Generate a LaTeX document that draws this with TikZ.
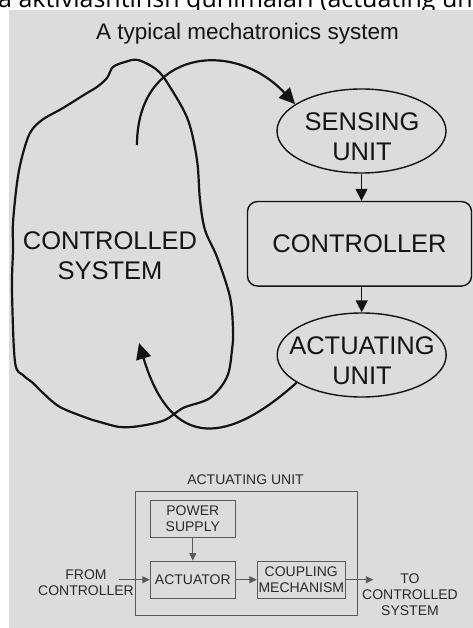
\documentclass[tikz,border=0pt]{standalone}
\usepackage{fontspec}
\setmainfont{Liberation Sans}
\newfontfamily\stripfont{Open Sans}
\usetikzlibrary{shapes.geometric,arrows.meta}
\definecolor{bg}{HTML}{DCDCDC}
\definecolor{thin}{HTML}{5A5A5A}
\definecolor{ink}{HTML}{141414}
\definecolor{txtgray}{HTML}{2A2A2A}
\begin{document}
\begin{tikzpicture}[x=1pt,y=-1pt,
  bigtxt/.style={font=\fontsize{25.5}{30}\selectfont, align=center, text=ink, inner sep=0},
  unitell/.style={ellipse, draw=ink, line width=1.4pt, minimum width=169pt, minimum height=84pt, inner sep=0},
  ctrlbox/.style={rectangle, rounded corners=10pt, draw=ink, line width=1.4pt, minimum width=224pt, minimum height=84.5pt, inner sep=0, font=\fontsize{25.5}{30}\selectfont, text=ink},
  flow/.style={draw=ink, line width=1.4pt, -{Triangle[length=12pt,width=12pt]}},
  loopline/.style={draw=ink, line width=2.2pt, -{Triangle[length=16pt,width=15pt]}},
  smalltxt/.style={font=\fontsize{14}{16}\selectfont, align=center, text=txtgray, inner sep=0},
  smallbox/.style={rectangle, draw=thin, line width=0.9pt, inner sep=0, font=\fontsize{14}{16}\selectfont, align=center, text=txtgray},
  smallflow/.style={draw=thin, line width=0.9pt, -{Triangle[length=7.5pt,width=7pt]}},
]
\useasboundingbox (0,0) rectangle (473,628);
\fill[white] (0,0) rectangle (473,628);
\fill[bg] (9,10) rectangle (473,628);
\begin{scope}
  \clip (0,0) rectangle (473,10);
  \node[anchor=base west, inner sep=0, font=\stripfont\fontsize{25}{25}\selectfont] (strip) at (-2,8) {a aktivlashtirish qurilmalari (actuating units)};
\end{scope}

% title
\node[anchor=base, inner sep=0, font=\fontsize{22.5}{26}\selectfont, text=ink] (title) at (247.5,39.3) {A typical mechatronics system};

% controlled system blob
\draw[ink, line width=2.2pt, line join=round] plot[smooth cycle, tension=0.55] coordinates {
 (138,60) (157,70) (170,87) (188,120) (197,160) (200,200) (205,230) (217,257)
 (230,297) (233,330) (232,350) (227,377) (210,398) (183,408) (165,420) (140,426)
 (120,427) (100,422) (87,418) (60,407) (43,393) (33,383) (23,375) (15,362)
 (12,290) (13,250) (13,223) (17,183) (22,157) (30,133) (42,120) (63,108)
 (87,93) (97,87) (107,78) (113,67) (125,62)};
\node[bigtxt] (cs) at (110,256) {CONTROLLED\\SYSTEM};

% right chain
\node[unitell] (sense) at (361.5,131) {};
\node[bigtxt] (senset) at (362,136.5) {SENSING\\UNIT};
\node[ctrlbox] (ctrl) at (359.5,243.8) {CONTROLLER};
\node[unitell] (actu) at (361.7,355) {};
\node[bigtxt] (actut) at (362,360.5) {ACTUATING\\UNIT};

\draw[flow] (sense.south) -- (ctrl.north -| sense.south);
\draw[flow] (ctrl.south -| actu.north) -- (actu.north);

% feedback loops
\coordinate (csout) at (137,145);
\coordinate (csin) at (139,343);
\draw[loopline] (csout) .. controls +(0,-95) and +(-62,-66) .. (sense.158);
\draw[loopline] (actu.203) .. controls +(-67,60) and +(33,110) .. (csin);

% actuating unit detail
\node[anchor=base, inner sep=0, font=\fontsize{14}{16}\selectfont, text=txtgray] (aulabel) at (245.5,484) {ACTUATING UNIT};
\node[rectangle, draw=thin, line width=0.9pt, minimum width=222.4pt, minimum height=123.3pt, inner sep=0] (outer) at (246.5,553.4) {};
\node[smallbox, minimum width=85pt, minimum height=37.3pt] (pow) at (192.8,518.7) {POWER\\SUPPLY};
\node[smallbox, minimum width=85pt, minimum height=37.3pt] (actr) at (192.8,579.7) {ACTUATOR};
\node[smallbox, minimum width=88pt, minimum height=37.5pt] (coup) at (301.3,579.7) {COUPLING\\MECHANISM};
\node[smalltxt] (from) at (86,582.8) {FROM\\CONTROLLER};
\node[smalltxt] (to) at (410,594.8) {TO\\CONTROLLED\\SYSTEM};
\coordinate (inpt) at (119,579.7);
\coordinate (outpt) at (373.3,579.7);
\draw[smallflow] (pow) -- (actr);
\draw[smallflow] (inpt) -- (actr.west);
\draw[smallflow] (actr) -- (coup);
\draw[smallflow] (coup.east) -- (outpt);
\end{tikzpicture}
\end{document}
